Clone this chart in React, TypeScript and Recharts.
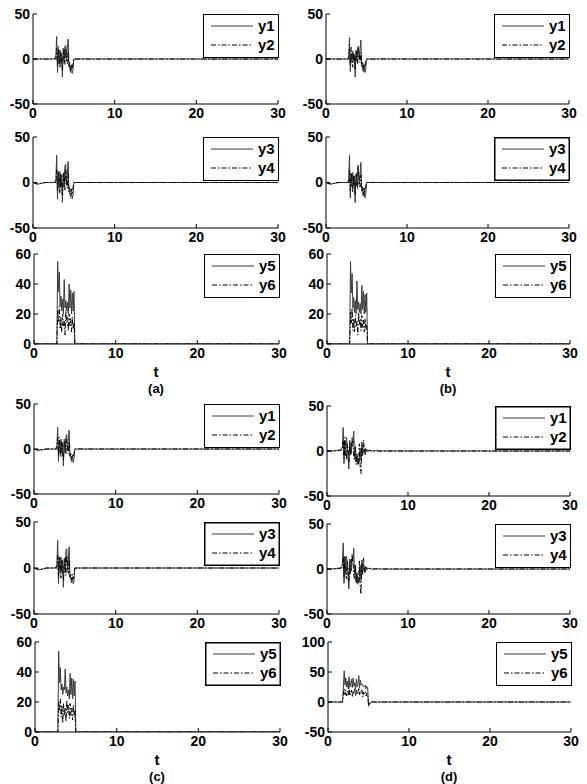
import React from 'react';
import { LineChart, Line, XAxis, YAxis, Legend } from 'recharts';

// time samples (s)
const tABC = [0, 0.5, 1, 1.5, 2, 2.6, 2.8, 2.9, 3.0, 3.1, 3.2, 3.3, 3.4, 3.5, 3.6, 3.7, 3.8, 3.9, 4.0, 4.1, 4.2, 4.3, 4.4, 4.5, 4.6, 4.7, 4.8, 4.9, 5.0, 30];
const tD = [0, 0.5, 1.0, 1.5, 1.8, 1.9, 2.0, 2.1, 2.2, 2.3, 2.4, 2.5, 2.6, 2.7, 2.8, 2.9, 3.0, 3.1, 3.2, 3.3, 3.4, 3.5, 3.6, 3.7, 3.8, 3.9, 4.0, 4.1, 4.2, 4.3, 4.4, 4.5, 4.6, 4.7, 4.8, 4.9, 5.0, 5.3, 5.6, 6.0, 6.5, 30];

const xTicks = [0, 10, 20, 30];
const yTicksPM50 = [-50, 0, 50];
const yTicks060 = [0, 20, 40, 60];
const yTicksD3 = [-50, 0, 50, 100];

// panel (a)
const aY1 = [0, 0, 0, 0, 0, 0, 3, 25, -15, 8, -5, 10, -3, 6, -20, 12, -4, 14, 15, -2, 12, 22, -6, -10, -15, -8, -16, -12, 0, 0];
const aY2 = [0, 0, 0, 0, 0, 0, 0, 12, -8, 14, 2, -10, 8, -4, -12, 6, 10, -6, 12, 5, -5, 8, -9, -4, -12, -6, -10, -5, 0, 0];
const aY3 = [0, -2, -1, 0, 0, 0, 3, 30, -18, 10, -6, 12, -4, 8, -22, 10, -5, 18, 20, -3, 8, 23, -8, -12, -16, -10, -18, -14, 0, 0];
const aY4 = [0, -1, -1, 0, 0, 0, 0, 14, -10, 12, 3, -12, 9, -5, -14, 7, 11, -8, 14, 4, -6, 9, -10, -6, -13, -7, -12, -6, 0, 0];
const aY5 = [0, 0, 0, 0, 0, 0, 0, 55, 35, 48, 25, 32, 22, 30, 20, 43, 24, 29, 22, 28, 20, 40, 24, 36, 20, 34, 22, 35, 0, 0];
const aY6 = [0, 0, 0, 0, 0, 0, 0, 22, 15, 25, 10, 18, 8, 20, 12, 16, 6, 22, 14, 18, 9, 20, 12, 17, 8, 18, 10, 14, 0, 0];

// panel (b)
const bY1 = [0, 0, 0, 0, 0, 0, 2, 24, -14, 6, -4, 9, -2, 5, -20, 10, -3, 13, 14, -1, 11, 21, -5, -9, -14, -7, -15, -11, 0, 0];
const bY2 = [0, 0, 0, 0, 0, 0, 0, 11, -7, 13, 2, -9, 7, -3, -11, 5, 9, -5, 11, 4, -4, 7, -8, -4, -11, -5, -9, -4, 0, 0];
const bY3 = [0, -2, -1, 0, 0, 0, 2, 30, -17, 9, -5, 11, -4, 7, -22, 9, -4, 17, 19, -2, 7, 22, -7, -11, -15, -9, -17, -13, 0, 0];
const bY4 = [0, -1, -1, 0, 0, 0, 0, 13, -9, 11, 3, -11, 8, -4, -13, 6, 10, -7, 13, 4, -5, 8, -9, -5, -12, -6, -11, -5, 0, 0];
const bY5 = [0, 0, 0, 0, 0, 0, 0, 55, 34, 47, 24, 31, 21, 29, 20, 42, 23, 28, 21, 27, 20, 39, 23, 35, 20, 33, 21, 34, 0, 0];
const bY6 = [0, 0, 0, 0, 0, 0, 0, 21, 14, 24, 9, 17, 8, 19, 11, 15, 6, 21, 13, 17, 9, 19, 11, 16, 8, 17, 10, 13, 0, 0];

// panel (c)
const cY1 = [0, -1.5, -1, 0, 0, 0, 3, 24, -14, 9, -5, 11, -3, 7, -19, 11, -4, 13, 16, -2, 11, 21, -6, -9, -14, -8, -15, -11, 0, 0];
const cY2 = [0, -1, -0.5, 0, 0, 0, 0, 12, -8, 13, 2, -9, 8, -4, -12, 6, 9, -6, 11, 5, -5, 8, -8, -4, -11, -6, -9, -5, 0, 0];
const cY3 = [0, -2, -1.5, 0, 0, 0, 3, 30, -17, 10, -5, 12, -4, 8, -21, 10, -5, 18, 21, -3, 8, 23, -8, -12, -16, -10, -17, -14, 0, 0];
const cY4 = [0, -1, -1, 0, 0, 0, 0, 14, -9, 12, 3, -11, 9, -5, -13, 7, 11, -8, 13, 4, -6, 9, -10, -6, -13, -7, -12, -6, 0, 0];
const cY5 = [0, 0, 0, 0, 0, 0, 0, 54, 33, 43, 28, 32, 25, 30, 28, 42, 26, 30, 24, 28, 22, 39, 25, 36, 22, 35, 24, 34, 0, 0];
const cY6 = [0, 0, 0, 0, 0, 0, 0, 20, 14, 22, 10, 18, 6, 19, 11, 16, 7, 21, 13, 18, 9, 19, 11, 16, 8, 18, 10, 14, 0, 0];

// panel (d)
const dY1 = [0, 0, 0.5, 1, 2, 5, 26, -14, 10, -5, 15, 5, -8, -20, 12, 8, -3, 15, 10, 22, -5, 5, -12, -3, -15, -8, -12, 3, -10, 5, -3, 2, -2, 3, -1, 2, 0, 1, -0.5, 0.5, 0, 0];
const dY2 = [0, 0, 0, 0.5, 1, 2, 10, -8, 15, 2, -10, 8, 3, -12, 6, -5, 10, 5, 12, -6, -10, 4, -15, -5, -10, -14, 8, -18, -25, 10, -5, 12, 3, -4, 2, -1, 0, 0.5, 0, 0, 0, 0];
const dY3 = [0, 0, 0.5, 1, 2, 5, 29, -16, 12, -6, 14, 6, -10, -22, 11, 9, -2, 16, 11, 23, -6, 4, -14, -4, -17, -10, -13, 4, -12, 6, -4, 3, -2, 3, -1, 2, 0, 1, -0.5, 0.5, 0, 0];
const dY4 = [0, 0, 0, 0.5, 1, 2, 12, -9, 14, 3, -11, 9, 2, -14, 7, -6, 11, 6, 13, -7, -11, 5, -16, -6, -12, -15, 9, -20, -28, 11, -6, 13, 3, -5, 2, -1, 0, 0.5, 0, 0, 0, 0];
const dY5 = [0, 0, 0, 0, 0, 25, 52, 28, 40, 25, 35, 22, 42, 25, 30, 38, 24, 40, 26, 32, 22, 38, 25, 30, 44, 24, 36, 28, 30, 27, 25, 26, 28, 22, 26, 24, -7, 0, 0, 0, 0, 0];
const dY6 = [0, 0, 0, 0, 0, 15, 22, 12, 20, 10, 18, 12, 24, 10, 16, 20, 8, 18, 14, 22, 10, 20, 12, 16, 24, 12, 18, 15, 20, 8, 16, 14, 18, 10, 15, 12, -5, 0, 0, 0, 0, 0];

const FONT = '"Liberation Sans", Arial, Helvetica, sans-serif';
const SOLID = '#3a3a3a';
const DASH = '#000000';
const DASHARRAY = '5 2 1.5 2';
const ML = 40;
const MT = 8;
const MR = 16;
const XH = 26;
const LEG_W = 76;
const LEG_H = 44;

type SubProps = {
  left: number;
  top: number;
  w: number;
  h: number;
  times: number[];
  s1: number[];
  s2: number[];
  n1: string;
  n2: string;
  yDomain: [number, number];
  yTicks: number[];
  legendBold?: boolean;
};

function Sub(p: SubProps) {
  const data = p.times.map((t, i) => ({ t, a: p.s1[i], b: p.s2[i] }));
  const W = ML + p.w + MR;
  const H = MT + p.h + XH;
  const tickStyle = { fontSize: 14, fill: '#000', fontFamily: FONT, fontWeight: 'bold' as const };
  const legendContent = () => (
    <svg width={LEG_W} height={LEG_H} style={{ display: 'block' }}>
      <rect x={0.5} y={0.5} width={LEG_W - 1} height={LEG_H - 1} fill="#fff" stroke="#000" strokeWidth={p.legendBold ? 2 : 1} />
      <line x1={8} x2={50} y1={12} y2={12} stroke={SOLID} strokeWidth={1} />
      <text x={55} y={17} fontSize={15} fontFamily={FONT} fontWeight="bold" fill="#000">{p.n1}</text>
      <line x1={8} x2={50} y1={31} y2={31} stroke={DASH} strokeWidth={1} strokeDasharray={DASHARRAY} />
      <text x={55} y={36} fontSize={15} fontFamily={FONT} fontWeight="bold" fill="#000">{p.n2}</text>
    </svg>
  );
  return (
    <div style={{ position: 'absolute', left: p.left - ML, top: p.top - MT }}>
      <LineChart width={W} height={H} data={data} margin={{ top: MT, right: MR, bottom: 0, left: 0 }}>
        <XAxis xAxisId="b" dataKey="t" type="number" domain={[0, 30]} ticks={xTicks} height={XH}
          tickSize={-4} tickMargin={8} stroke="#000" tick={tickStyle} allowDataOverflow />
        <XAxis xAxisId="t" orientation="top" dataKey="t" type="number" domain={[0, 30]} ticks={xTicks} height={0}
          tickSize={-4} tick={false} stroke="#000" allowDataOverflow />
        <YAxis yAxisId="l" type="number" domain={p.yDomain} ticks={p.yTicks} width={ML}
          tickSize={-4} tickMargin={7} stroke="#000" tick={tickStyle} allowDataOverflow interval={0} />
        <YAxis yAxisId="r" orientation="right" type="number" domain={p.yDomain} ticks={p.yTicks} width={0}
          tickSize={-4} tick={false} stroke="#000" allowDataOverflow />
        <Line xAxisId="b" yAxisId="l" type="linear" dataKey="a" name={p.n1} stroke={SOLID} strokeWidth={1}
          dot={false} isAnimationActive={false} />
        <Line xAxisId="b" yAxisId="l" type="linear" dataKey="b" name={p.n2} stroke={DASH} strokeWidth={1}
          strokeDasharray={DASHARRAY} dot={false} isAnimationActive={false} />
        <Legend layout="horizontal" verticalAlign="middle" align="center" content={legendContent}
          wrapperStyle={{ left: ML + p.w - LEG_W + 1, top: MT, width: LEG_W, height: LEG_H }} />
      </LineChart>
    </div>
  );
}

function Caption({ cx, y, text, size }: { cx: number; y: number; text: string; size: number }) {
  return (
    <div style={{ position: 'absolute', left: cx - 30, top: y, width: 60, textAlign: 'center', fontFamily: FONT, fontWeight: 'bold', fontSize: size, lineHeight: 1, color: '#000' }}>
      {text}
    </div>
  );
}

export default function App() {
  const pm50: [number, number] = [-50, 50];
  const r060: [number, number] = [0, 60];
  const rD3: [number, number] = [-50, 100];
  return (
    <div style={{ position: 'absolute', left: 0, top: 0, width: 587, height: 784, background: '#fff', overflow: 'hidden' }}>
      {/* (a) */}
      <Sub left={33} top={14} w={245} h={90} times={tABC} s1={aY1} s2={aY2} n1="y1" n2="y2" yDomain={pm50} yTicks={yTicksPM50} />
      <Sub left={33} top={137} w={245} h={91} times={tABC} s1={aY3} s2={aY4} n1="y3" n2="y4" yDomain={pm50} yTicks={yTicksPM50} />
      <Sub left={34} top={254} w={245} h={90} times={tABC} s1={aY5} s2={aY6} n1="y5" n2="y6" yDomain={r060} yTicks={yTicks060} />
      <Caption cx={156} y={364} text="t" size={15} />
      <Caption cx={156} y={382} text="(a)" size={13} />
      {/* (b) */}
      <Sub left={326} top={14} w={243} h={90} times={tABC} s1={bY1} s2={bY2} n1="y1" n2="y2" yDomain={pm50} yTicks={yTicksPM50} />
      <Sub left={326} top={137} w={243} h={91} times={tABC} s1={bY3} s2={bY4} n1="y3" n2="y4" yDomain={pm50} yTicks={yTicksPM50} legendBold />
      <Sub left={327} top={254} w={243} h={90} times={tABC} s1={bY5} s2={bY6} n1="y5" n2="y6" yDomain={r060} yTicks={yTicks060} />
      <Caption cx={448} y={364} text="t" size={15} />
      <Caption cx={448} y={382} text="(b)" size={13} />
      {/* (c) */}
      <Sub left={34} top={404} w={245} h={90} times={tABC} s1={cY1} s2={cY2} n1="y1" n2="y2" yDomain={pm50} yTicks={yTicksPM50} />
      <Sub left={34} top={522} w={245} h={92} times={tABC} s1={cY3} s2={cY4} n1="y3" n2="y4" yDomain={pm50} yTicks={yTicksPM50} legendBold />
      <Sub left={35} top={642} w={245} h={90} times={tABC} s1={cY5} s2={cY6} n1="y5" n2="y6" yDomain={r060} yTicks={yTicks060} legendBold />
      <Caption cx={157} y={752} text="t" size={15} />
      <Caption cx={157} y={770} text="(c)" size={13} />
      {/* (d) */}
      <Sub left={327} top={406} w={243} h={90} times={tD} s1={dY1} s2={dY2} n1="y1" n2="y2" yDomain={pm50} yTicks={yTicksPM50} legendBold />
      <Sub left={327} top={524} w={243} h={90} times={tD} s1={dY3} s2={dY4} n1="y3" n2="y4" yDomain={pm50} yTicks={yTicksPM50} />
      <Sub left={328} top={642} w={243} h={90} times={tD} s1={dY5} s2={dY6} n1="y5" n2="y6" yDomain={rD3} yTicks={yTicksD3} />
      <Caption cx={449} y={752} text="t" size={15} />
      <Caption cx={449} y={770} text="(d)" size={13} />
    </div>
  );
}
